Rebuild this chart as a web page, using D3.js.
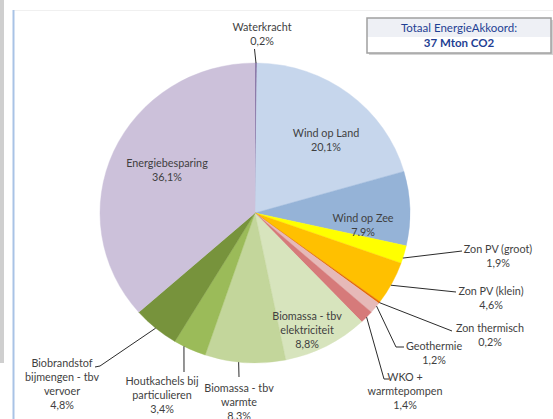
<!DOCTYPE html>
<html>
<head>
<meta charset="utf-8">
<script src="https://cdn.jsdelivr.net/npm/d3@7"></script>
<style>
  html, body { margin: 0; padding: 0; background: #ffffff; }
  svg { display: block; font-family: Lato, "Liberation Sans", sans-serif; }
</style>
</head>
<body>
<svg id="chart" width="553" height="419"></svg>
<script>
// Reduction shares per measure (percent of the 37 Mton CO2 total)
const categories = [
  "Waterkracht",
  "Wind op Land",
  "Wind op Zee",
  "Zon PV (groot)",
  "Zon PV (klein)",
  "Zon thermisch",
  "Geothermie",
  "WKO +\nwarmtepompen",
  "Biomassa - tbv\nelektriciteit",
  "Biomassa - tbv\nwarmte",
  "Houtkachels bij\nparticulieren",
  "Biobrandstof\nbijmengen - tbv\nvervoer",
  "Energiebesparing"
];
const shares = [0.2, 20.1, 7.9, 1.9, 4.6, 0.2, 1.2, 1.4, 8.8, 8.3, 3.4, 4.8, 36.1];
const shareLabels = ["0,2%", "20,1%", "7.9%", "1,9%", "4,6%", "0,2%", "1,2%", "1,4%", "8,8%", "8,3%", "3,4%", "4,8%", "36,1%"];
const sliceColors = [
  "#7f6a9e", "#c6d6ec", "#95b3d7", "#ffff00", "#ffc000", "#e46c0a", "#e6b9b8",
  "#d67a7a", "#d7e4bd", "#c3d69b", "#9bbb59", "#77933c", "#ccc1da"
];
const totalTitle = "Totaal EnergieAkkoord:";
const totalValue = "37 Mton CO2";

// Label placement relative to the pie centre: first text line centre (dx, dy),
// leader line start fraction within the slice (t) and leader end points.
const labelLayout = [
  { dx: 7,    dy: -186, t: 0.5,  leader: [[-0.5, -164]] },
  { dx: 71,   dy: -80 },
  { dx: 108,  dy: 5 },
  { dx: 243,  dy: 36,   t: 0.7,  leader: [[207, 38]] },
  { dx: 236,  dy: 78,   t: 0.55, leader: [[201, 79]] },
  { dx: 235,  dy: 115,  t: 0.5,  leader: [[197, 118]] },
  { dx: 179,  dy: 133,  t: 0.3,  leader: [[141, 134], [149, 134]] },
  { dx: 150,  dy: 164,  t: 0.5,  leader: [[129, 166], [134, 166]] },
  { dx: 52,   dy: 103 },
  { dx: -16,  dy: 175,  t: 0.58, leader: [[-16, 164]] },
  { dx: -93,  dy: 168,  t: 0.69, leader: [[-71, 159]] },
  { dx: -193, dy: 150,  t: 0.5,  leader: [[-155, 153], [-160, 154]] },
  { dx: -88,  dy: -50 }
];

const svg = d3.select("#chart");
const cx = 255, cy = 213, R = 150, sx = 155 / 150;
const lineH = 14.2;

// Frame decorations
svg.append("rect").attr("x", 0).attr("y", 0).attr("width", 4).attr("height", 363).attr("fill", "#cfcfcf");
svg.append("line").attr("x1", 14).attr("x2", 553).attr("y1", 10.5).attr("y2", 10.5)
  .attr("stroke", "#f0f0f0").attr("stroke-width", 1);
svg.append("line").attr("x1", 13.5).attr("x2", 13.5).attr("y1", 10).attr("y2", 419)
  .attr("stroke", "#a9c3e6").attr("stroke-width", 2);

// Pie
const pie = d3.pie().sort(null).value(d => d)(shares);
const arc = d3.arc().innerRadius(0).outerRadius(R);
const g = svg.append("g").attr("transform", `translate(${cx},${cy}) scale(${sx},1)`);
g.selectAll("path").data(pie).join("path")
  .attr("d", arc)
  .attr("fill", (d, i) => sliceColors[i])
  .attr("stroke", (d, i) => sliceColors[i])
  .attr("stroke-width", 0.4);

// Leader lines
const lg = svg.append("g").attr("transform", `translate(${cx},${cy})`);
pie.forEach((d, i) => {
  const L = labelLayout[i];
  if (!L.leader) return;
  const a = d.startAngle + (d.endAngle - d.startAngle) * L.t;
  const start = [R * sx * Math.sin(a), -R * Math.cos(a)];
  lg.append("path")
    .attr("d", d3.line()([start, ...L.leader]))
    .attr("fill", "none")
    .attr("stroke", "#2b2b2b")
    .attr("stroke-width", 1);
});

// Data labels
const tg = svg.append("g").attr("transform", `translate(${cx},${cy})`)
  .attr("font-size", 10.8).attr("fill", "#3f3f3f").attr("text-anchor", "middle");
categories.forEach((name, i) => {
  const L = labelLayout[i];
  const lines = name.split("\n").concat([shareLabels[i]]);
  const t = tg.append("text");
  lines.forEach((s, k) => {
    t.append("tspan").attr("x", L.dx).attr("y", L.dy + k * lineH)
      .attr("dy", "0.35em").text(s);
  });
});

// Total box
const bx = 367, by = 18, bw = 184, bh = 35;
svg.append("rect").attr("x", bx + 2).attr("y", by + 2).attr("width", bw).attr("height", bh)
  .attr("fill", "#d4d4d4");
svg.append("rect").attr("x", bx).attr("y", by).attr("width", bw).attr("height", bh)
  .attr("fill", "#ffffff");
svg.append("rect").attr("x", bx).attr("y", by).attr("width", bw).attr("height", 19)
  .attr("fill", "#eef0f5");
svg.append("rect").attr("x", bx).attr("y", by).attr("width", bw).attr("height", bh)
  .attr("fill", "none").attr("stroke", "#a0a0a0").attr("stroke-width", 1.5);
svg.append("text").attr("x", bx + bw / 2).attr("y", by + 10).attr("dy", "0.35em")
  .attr("text-anchor", "middle").attr("font-size", 11.5).attr("fill", "#1f3f94")
  .text(totalTitle);
svg.append("text").attr("x", bx + bw / 2).attr("y", by + 25).attr("dy", "0.35em")
  .attr("text-anchor", "middle").attr("font-size", 11.5).attr("font-weight", "bold")
  .attr("fill", "#1f3f94").text(totalValue);
</script>
</body>
</html>
